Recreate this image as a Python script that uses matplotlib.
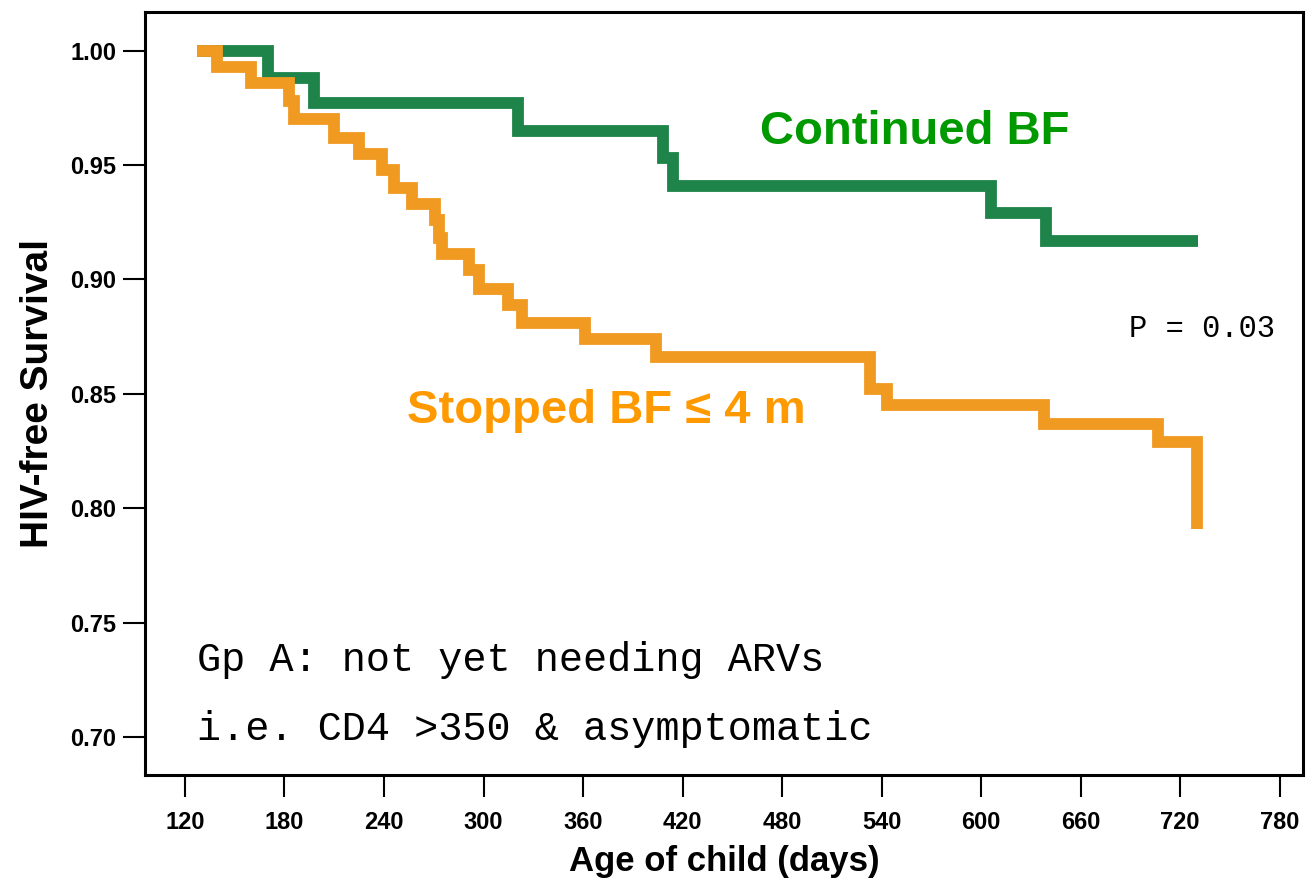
import matplotlib.pyplot as plt
import numpy as np

# Kaplan-Meier steps (days, survival)
cont_t = [127, 170, 198, 321, 408, 414, 606, 639, 731]
cont_s = [1.000, 0.988, 0.977, 0.965, 0.953, 0.941, 0.929, 0.917, 0.917]

stop_t = [127, 139, 160, 183, 186, 210, 225, 239, 246, 257, 271, 273, 275,
          291, 297, 315, 323, 361, 404, 533, 543, 638, 707, 730, 730]
stop_s = [1.000, 0.993, 0.986, 0.978, 0.970, 0.962, 0.955, 0.948, 0.940,
          0.933, 0.926, 0.918, 0.911, 0.904, 0.896, 0.889, 0.881, 0.874,
          0.866, 0.852, 0.845, 0.837, 0.829, 0.791, 0.791]

x_ticks = [120, 180, 240, 300, 360, 420, 480, 540, 600, 660, 720, 780]
y_ticks = [0.70, 0.75, 0.80, 0.85, 0.90, 0.95, 1.00]

plt.rcParams['font.family'] = ['Liberation Sans', 'DejaVu Sans']
mono = ['Liberation Mono', 'DejaVu Sans Mono']

fig = plt.figure(figsize=(13.08, 8.85), dpi=100)
ax = fig.add_axes([0.111, 0.124, 0.885, 0.862])

ax.step(cont_t, cont_s, where='post', color='#1e8449', lw=8.5,
        solid_joinstyle='miter', solid_capstyle='butt')
ax.step(stop_t, stop_s, where='post', color='#f19a22', lw=8.5,
        solid_joinstyle='miter', solid_capstyle='butt')

ax.set_xlim(96, 794)
ax.set_ylim(0.6832, 1.0168)
ax.set_xticks(x_ticks)
ax.set_yticks(y_ticks)
ax.set_yticklabels(['%.2f' % v for v in y_ticks])

for s in ax.spines.values():
    s.set_linewidth(2.2)
ax.tick_params(direction='out', length=16, width=1.5, labelsize=17, pad=5)
ax.tick_params(axis='x', pad=10)
for lab in ax.get_xticklabels() + ax.get_yticklabels():
    lab.set_fontweight('bold')

ax.set_xlabel('Age of child (days)', fontsize=25, fontweight='bold', labelpad=8)
ax.set_ylabel('HIV-free Survival', fontsize=28, fontweight='bold', labelpad=10)

ax.text(466.5, 0.9645, 'Continued BF', color='#009900', fontsize=34,
        fontweight='bold', ha='left', va='center')
ax.text(254, 0.8425, 'Stopped BF \u2264 4 m', color='#ff9900', fontsize=34,
        fontweight='bold', ha='left', va='center')
ax.text(689.5, 0.8785, 'P = 0.03', fontsize=22, ha='left', va='center', family=mono)
ax.text(127, 0.7335, 'Gp A: not yet needing ARVs', fontsize=29, ha='left',
        va='center', family=mono)
ax.text(127, 0.7035, 'i.e. CD4 >350 & asymptomatic', fontsize=29, ha='left',
        va='center', family=mono)

fig.savefig('out.png', dpi=100)
